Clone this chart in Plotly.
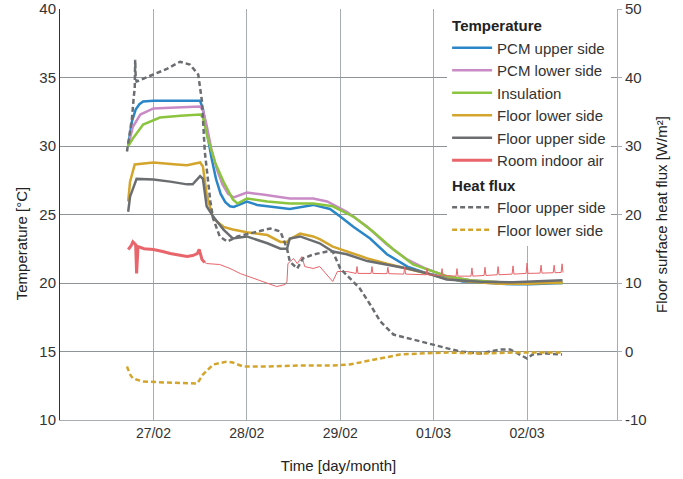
import plotly.graph_objects as go

# time axis: days since 26/02 00:00
tick_days = [1, 2, 3, 4, 5]
tick_labels = ["27/02", "28/02", "29/02", "01/03", "02/03"]
flux_ticks = [-10, 0, 10, 20, 30, 40, 50]
flux_tick_labels = ["-10", "0", "10", "20", "30", "40", "50"]

pcm_up_t = [0.73, 0.75, 0.77, 0.81, 0.85, 0.89, 1.00, 1.29, 1.50, 1.53, 1.57, 1.62, 1.67, 1.72, 1.77, 1.82, 1.86, 1.93, 2.00, 2.11, 2.22, 2.46, 2.71, 2.89, 3.00, 3.14, 3.32, 3.50, 3.72, 3.93, 4.07, 4.31, 4.60, 4.85, 5.03, 5.38]
pcm_up_v = [30.0, 31.0, 31.8, 32.66, 33.05, 33.25, 33.3, 33.3, 33.3, 32.7, 31.0, 29.2, 27.6, 26.5, 25.9, 25.6, 25.55, 25.75, 25.95, 25.7, 25.6, 25.4, 25.7, 25.4, 24.85, 24.1, 23.25, 22.1, 21.2, 20.7, 20.5, 20.1, 20.0, 19.9, 19.9, 20.0]

pcm_low_t = [0.73, 0.78, 0.86, 1.00, 1.18, 1.50, 1.53, 1.57, 1.62, 1.68, 1.74, 1.80, 1.86, 1.96, 2.00, 2.17, 2.46, 2.71, 2.86, 3.07, 3.29, 3.50, 3.72, 3.93, 4.14, 4.39, 4.71, 5.38]
pcm_low_v = [30.0, 31.4, 32.3, 32.74, 32.8, 32.88, 32.6, 31.5, 29.8, 28.3, 27.2, 26.5, 26.25, 26.5, 26.6, 26.46, 26.17, 26.17, 25.95, 25.2, 24.1, 22.8, 21.7, 21.0, 20.5, 20.2, 20.05, 20.0]

insul_t = [0.73, 0.78, 0.89, 1.07, 1.29, 1.50, 1.53, 1.58, 1.66, 1.75, 1.85, 1.90, 2.00, 2.07, 2.22, 2.46, 2.71, 2.92, 3.14, 3.35, 3.57, 3.78, 3.99, 4.14, 4.39, 4.71, 5.38]
insul_v = [30.0, 30.55, 31.57, 32.08, 32.2, 32.3, 32.1, 30.6, 28.8, 27.4, 26.1, 25.8, 26.17, 26.1, 25.95, 25.8, 25.8, 25.6, 24.85, 23.76, 22.45, 21.35, 20.84, 20.5, 20.2, 20.05, 20.0]

floor_low_t = [0.73, 0.75, 0.80, 1.00, 1.25, 1.36, 1.50, 1.53, 1.57, 1.64, 1.75, 1.85, 2.00, 2.22, 2.36, 2.43, 2.46, 2.57, 2.71, 2.78, 2.92, 3.07, 3.29, 3.50, 3.72, 3.93, 4.14, 4.39, 4.71, 5.03, 5.38]
floor_low_v = [25.95, 27.4, 28.65, 28.8, 28.65, 28.6, 28.8, 28.5, 26.46, 24.7, 24.1, 23.9, 23.7, 23.5, 23.0, 23.0, 23.2, 23.6, 23.4, 23.2, 22.66, 22.3, 21.8, 21.4, 21.06, 20.7, 20.3, 20.1, 19.95, 19.95, 20.05]

floor_up_t = [0.73, 0.75, 0.82, 1.00, 1.18, 1.36, 1.42, 1.50, 1.53, 1.57, 1.64, 1.75, 1.85, 2.00, 2.22, 2.36, 2.43, 2.46, 2.57, 2.78, 2.92, 3.07, 3.29, 3.50, 3.72, 3.93, 4.14, 4.50, 4.85, 5.38]
floor_up_v = [25.2, 26.3, 27.6, 27.55, 27.4, 27.2, 27.2, 27.8, 27.6, 25.6, 24.85, 23.9, 23.25, 23.4, 22.9, 22.5, 22.5, 23.25, 23.4, 22.9, 22.3, 22.1, 21.6, 21.35, 21.06, 20.7, 20.26, 20.1, 20.05, 20.2]

room_a_t = [0.73, 0.76, 0.78, 0.81, 0.82, 0.835, 0.90, 1.00, 1.10, 1.18, 1.27, 1.36, 1.42, 1.47, 1.49, 1.52, 1.55]
room_a_v = [22.45, 22.7, 23.0, 22.8, 20.7, 22.66, 22.5, 22.45, 22.3, 22.15, 22.05, 21.93, 22.0, 22.15, 22.45, 21.72, 21.5]
room_b_t = [1.55, 1.57, 1.71, 1.82, 1.93, 2.07, 2.22, 2.32, 2.41, 2.43, 2.44, 2.50, 2.54, 2.59, 2.62, 2.71, 2.78, 2.86, 2.92, 2.97, 3.07, 3.17, 3.18, 3.19, 3.33, 3.34, 3.35, 3.50, 3.51, 3.52, 3.68, 3.69, 3.70, 3.92, 3.93, 3.94, 4.08, 4.09, 4.10, 4.24, 4.25, 4.26, 4.40, 4.41, 4.42, 4.54, 4.55, 4.56, 4.68, 4.69, 4.70, 4.84, 4.85, 4.86, 4.99, 5.00, 5.01, 5.14, 5.15, 5.16, 5.28, 5.29, 5.30, 5.365, 5.375, 5.385]
room_b_v = [21.5, 21.42, 21.35, 21.06, 20.69, 20.33, 19.96, 19.74, 19.89, 20.11, 21.42, 21.79, 21.42, 21.93, 21.2, 21.06, 21.2, 20.62, 20.11, 20.84, 20.84, 20.7, 21.2, 20.7, 20.7, 21.2, 20.7, 20.68, 21.15, 20.68, 20.65, 21.15, 20.65, 20.6, 21.1, 20.6, 20.55, 21.05, 20.55, 20.5, 21.05, 20.5, 20.5, 21.1, 20.5, 20.55, 21.15, 20.55, 20.6, 21.2, 20.6, 20.65, 21.25, 20.65, 20.7, 21.45, 20.7, 20.72, 21.3, 20.72, 20.75, 21.3, 20.75, 20.77, 21.4, 20.77]

flux_up_t = [0.717, 0.75, 0.77, 0.79, 0.80, 0.805, 0.81, 0.82, 0.89, 1.00, 1.15, 1.285, 1.39, 1.48, 1.52, 1.55, 1.61, 1.64, 1.71, 1.79, 1.90, 2.11, 2.25, 2.36, 2.43, 2.46, 2.54, 2.60, 2.71, 2.86, 2.92, 3.00, 3.10, 3.21, 3.32, 3.43, 3.57, 3.78, 3.99, 4.28, 4.50, 4.71, 4.82, 4.925, 5.00, 5.06, 5.21, 5.375]
flux_up_v = [29.2, 32.1, 34.0, 37.2, 38.4, 42.6, 40.1, 39.4, 39.85, 40.44, 41.3, 42.3, 41.9, 40.44, 36.5, 29.2, 21.9, 19.4, 16.8, 16.06, 16.79, 17.52, 17.96, 17.52, 15.04, 13.14, 12.12, 13.58, 14.16, 14.6, 14.6, 12.12, 10.66, 9.2, 6.86, 4.38, 2.48, 1.75, 1.02, 0.0, -0.29, 0.29, 0.29, -0.44, -1.02, -0.44, -0.29, -0.44]

flux_low_t = [0.717, 0.75, 0.78, 0.89, 1.15, 1.47, 1.53, 1.64, 1.79, 1.85, 1.96, 2.22, 2.57, 2.92, 3.10, 3.43, 3.64, 3.85, 4.14, 4.50, 4.85, 5.375]
flux_low_v = [-2.19, -3.36, -3.94, -4.38, -4.53, -4.67, -3.36, -1.9, -1.46, -1.61, -2.19, -2.19, -2.04, -2.04, -1.9, -1.02, -0.44, -0.29, -0.15, -0.29, -0.15, -0.15]

C_BLUE = "#2b86c8"
C_PINK = "#c98bc5"
C_GREEN = "#8bc43f"
C_GOLD = "#d4a52c"
C_GRAY = "#6b6e71"
C_RED = "#e8656b"

fig = go.Figure()

def temp(t, v, name, color, title=None, width=2.5):
    kw = dict(legendgroup="temp")
    if title:
        kw["legendgrouptitle"] = dict(text=title, font=dict(size=15, color="#222"))
    fig.add_trace(go.Scatter(x=t, y=v, name=name, mode="lines",
                             line=dict(color=color, width=width), **kw))

temp(pcm_up_t, pcm_up_v, "PCM upper side", C_BLUE, title="<b>Temperature</b>")
temp(pcm_low_t, pcm_low_v, "PCM lower side", C_PINK)
temp(insul_t, insul_v, "Insulation", C_GREEN)
temp(floor_low_t, floor_low_v, "Floor lower side", C_GOLD)
temp(floor_up_t, floor_up_v, "Floor upper side", C_GRAY)
temp(room_a_t, room_a_v, "Room indoor air", C_RED, width=3)
fig.add_trace(go.Scatter(x=room_b_t, y=room_b_v, mode="lines", legendgroup="temp",
                         showlegend=False, line=dict(color=C_RED, width=1)))

fig.add_trace(go.Scatter(x=flux_up_t, y=flux_up_v, name="Floor upper side", mode="lines",
                         yaxis="y2", legendgroup="flux",
                         legendgrouptitle=dict(text="<b>Heat flux</b>", font=dict(size=15, color="#222")),
                         line=dict(color=C_GRAY, width=2.5, dash="5px,3px")))
fig.add_trace(go.Scatter(x=flux_low_t, y=flux_low_v, name="Floor lower side", mode="lines",
                         yaxis="y2", legendgroup="flux",
                         line=dict(color=C_GOLD, width=2.5, dash="5px,3px")))

HGRID = "#8d9599"
VGRID = "#a7adb0"
fig.update_layout(
    width=683, height=479,
    margin=dict(l=60, r=66, t=9, b=59),
    paper_bgcolor="white", plot_bgcolor="white",
    font=dict(family="Liberation Sans", size=14, color="#333"),
    xaxis=dict(range=[0, 5.963], tickvals=tick_days, ticktext=tick_labels,
               showgrid=True, gridcolor=VGRID, gridwidth=1,
               showline=True, linecolor=VGRID, linewidth=1, zeroline=False,
               ticks="", tickfont=dict(size=14, color="#333"),
               title=dict(text="Time [day/month]", font=dict(size=15, color="#222"), standoff=20),
               automargin=False),
    yaxis=dict(range=[10, 40], dtick=5, tick0=10, showgrid=True, gridcolor=HGRID, gridwidth=1,
               showline=True, linecolor="#333", linewidth=1, zeroline=False, ticks="",
               tickfont=dict(size=15, color="#333"), ticklabeloverflow="allow",
               automargin=False),
    yaxis2=dict(range=[-10, 50], tickvals=flux_ticks, ticktext=flux_tick_labels,
                overlaying="y", side="right",
                showgrid=False, showline=True, linecolor=VGRID, linewidth=1, zeroline=False,
                ticks="outside", ticklen=4, tickcolor=VGRID,
                tickfont=dict(size=15, color="#333"), ticklabeloverflow="allow",
                title=dict(text="Floor surface heat flux [W/m²]", font=dict(size=15, color="#222"), standoff=10),
                automargin=False),
    legend=dict(x=0.695, y=1.0, xanchor="left", yanchor="top", bgcolor="white",
                traceorder="grouped", tracegroupgap=2, font=dict(size=15, color="#333"),
                itemwidth=40),
    showlegend=True,
    annotations=[dict(text="Temperature [°C]", textangle=-90, xref="paper", yref="paper",
                      x=0, y=0.43, xanchor="center", yanchor="middle", xshift=-39,
                      showarrow=False, font=dict(size=15, color="#222"))],
)

fig.write_html("out.html", config={"displayModeBar": False},
               post_script="document.body.style.margin='0';")
